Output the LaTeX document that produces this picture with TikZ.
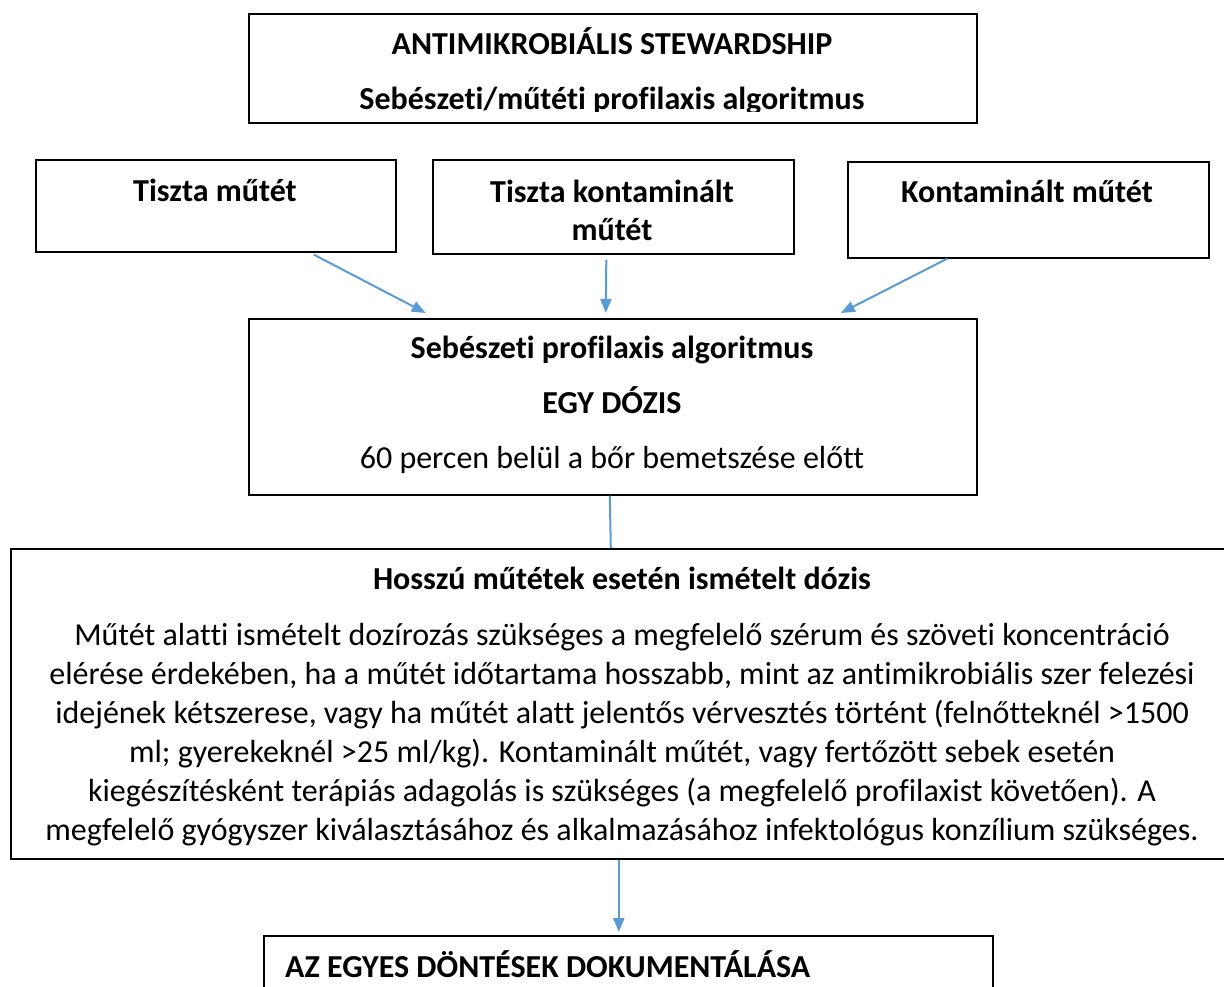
\documentclass[tikz,border=0pt]{standalone}
\usepackage{fontspec}
\setmainfont{Carlito}[Ligatures=NoCommon]
\usetikzlibrary{arrows.meta}
\definecolor{linkblue}{HTML}{5B9BD5}

\begin{document}
\begin{tikzpicture}[x=1pt, y=-1pt,
        box/.style = {draw, line width=1.6pt, inner sep=0pt, anchor=north west},
        txt/.style = {font=\fontsize{32}{39}\selectfont, inner sep=0pt, align=center, anchor=base},
        head/.style = {txt, font=\fontsize{32}{39}\selectfont\bfseries},
        link/.style = {draw=linkblue, line width=2pt, -{Triangle[length=14pt, width=11pt]}}]
                \useasboundingbox (0,0) rectangle (1224,987);

                % Boxes:
                \node[box, minimum width=728, minimum height=109] (title) at (248,13) {};
                \node[box, minimum width=360, minimum height=92] (clean) at (35,159) {};
                \node[box, minimum width=361, minimum height=94] (cleancont) at (432,159) {};
                \node[box, minimum width=361, minimum height=96] (cont) at (847,161) {};
                \node[box, minimum width=728, minimum height=176] (prof) at (248,318) {};
                \node[box, minimum width=1220, minimum height=310] (redose) at (10,548) {};
                \node[box, minimum width=729, minimum height=80] (docu) at (263,935) {};

                % Texts (base = last line):
                \begin{scope}
                    \clip (248,13) rectangle (976,112);
                    \node[head] (titletxt) at (612,110) {ANTIMIKROBIÁLIS STEWARDSHIP\\[16pt]Sebészeti/műtéti profilaxis algoritmus};
                \end{scope}
                \node[head] (cleantxt) at (215,202) {Tiszta műtét};
                \node[head] (cleanconttxt) at (612,241) {Tiszta kontaminált\\műtét};
                \node[head] (conttxt) at (1027,203) {Kontaminált műtét};
                \node[txt] (proftxt) at (612,468) {\textbf{Sebészeti profilaxis algoritmus}\\[16pt]\textbf{EGY DÓZIS}\\[16pt]60 percen belül a bőr bemetszése előtt};
                \node[txt] (redosetxt) at (622,840) {\textbf{Hosszú műtétek esetén ismételt dózis}\\[17pt]
                    Műtét alatti ismételt dozírozás szükséges a megfelelő szérum és szöveti koncentráció\\
                    elérése érdekében, ha a műtét időtartama hosszabb, mint az antimikrobiális szer felezési\\
                    idejének kétszerese, vagy ha műtét alatt jelentős vérvesztés történt (felnőtteknél >1500\\
                    ml; gyerekeknél >25 ml/kg). Kontaminált műtét, vagy fertőzött sebek esetén\\
                    kiegészítésként terápiás adagolás is szükséges (a megfelelő profilaxist követően). A\\
                    megfelelő gyógyszer kiválasztásához és alkalmazásához infektológus konzílium szükséges.};
                \node[head, anchor=base west] (docutxt) at (285,977) {AZ EGYES DÖNTÉSEK DOKUMENTÁLÁSA};

                % Connectors:
                \draw[link] ([xshift=98pt,yshift=-2pt]clean.south) -- ([xshift=-187pt,yshift=5pt]prof.north);
                \draw[link] ([xshift=-7pt,yshift=-5pt]cleancont.south) -- ([xshift=-7pt,yshift=5pt]prof.north);
                \draw[link] ([xshift=-81pt]cont.south) -- ([xshift=228pt,yshift=5pt]prof.north);
                \draw[draw=linkblue, line width=2pt] ([xshift=-3pt]prof.south) -- ([xshift=-10pt]redose.north);
                \draw[link] ([xshift=-2pt]redose.south) -- ([xshift=-9.5pt,yshift=3pt]docu.north);
\end{tikzpicture}
\end{document}
